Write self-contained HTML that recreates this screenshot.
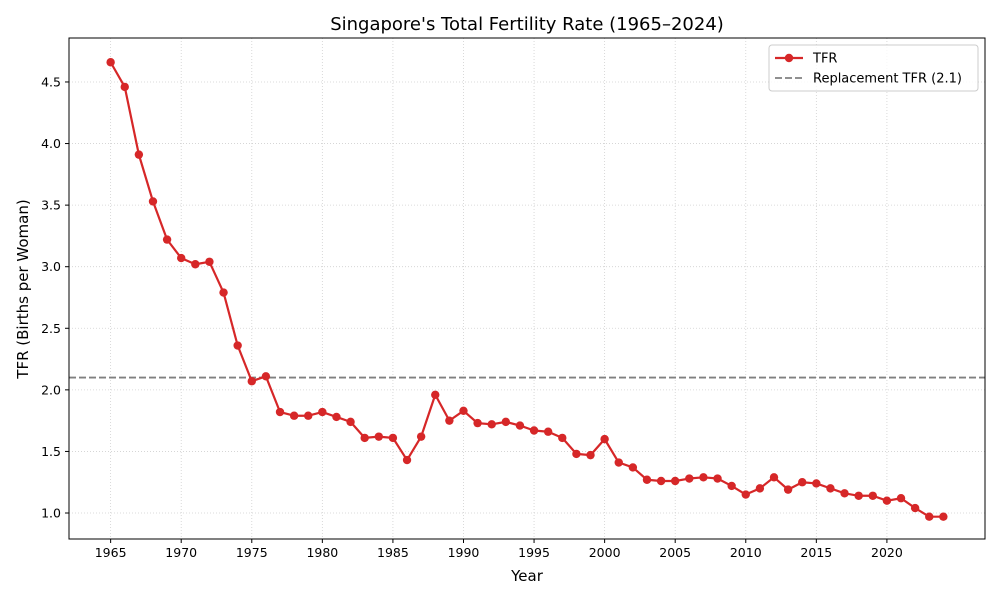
<!DOCTYPE html>
<html><head><meta charset="utf-8"><style>
body{margin:0;background:#fff;font-family:"Liberation Sans","DejaVu Sans",sans-serif;}
svg text{font-family:"DejaVu Sans","Liberation Sans",sans-serif;}
</style></head><body>
<svg id="chart" width="1000" height="600" xmlns="http://www.w3.org/2000/svg"></svg>
<script>
const years = [1965,1966,1967,1968,1969,1970,1971,1972,1973,1974,1975,1976,1977,1978,1979,1980,1981,1982,1983,1984,1985,1986,1987,1988,1989,1990,1991,1992,1993,1994,1995,1996,1997,1998,1999,2000,2001,2002,2003,2004,2005,2006,2007,2008,2009,2010,2011,2012,2013,2014,2015,2016,2017,2018,2019,2020,2021,2022,2023,2024];
const tfr = [4.66,4.46,3.91,3.53,3.22,3.07,3.02,3.04,2.79,2.36,2.07,2.11,1.82,1.79,1.79,1.82,1.78,1.74,1.61,1.62,1.61,1.43,1.62,1.96,1.75,1.83,1.73,1.72,1.74,1.71,1.67,1.66,1.61,1.48,1.47,1.60,1.41,1.37,1.27,1.26,1.26,1.28,1.29,1.28,1.22,1.15,1.20,1.29,1.19,1.25,1.24,1.20,1.16,1.14,1.14,1.10,1.12,1.04,0.97,0.97];
const xTicks = [1965,1970,1975,1980,1985,1990,1995,2000,2005,2010,2015,2020];
const yTicks = [1.0,1.5,2.0,2.5,3.0,3.5,4.0,4.5];
const replacement = 2.1;

const L=69,R=985,T=38,B=539;
const xmin=1962.05,xmax=2026.95,ymin=0.789,ymax=4.857;
const sx=v=>L+(v-xmin)/(xmax-xmin)*(R-L);
const sy=v=>B-(v-ymin)/(ymax-ymin)*(B-T);
const svg=document.getElementById('chart');
const NS='http://www.w3.org/2000/svg';
function mk(tag,attrs,parent){const e=document.createElementNS(NS,tag);for(const k in attrs)e.setAttribute(k,attrs[k]);(parent||svg).appendChild(e);return e;}

xTicks.forEach(t=>{const g=mk('line',{x1:sx(t),x2:sx(t),y1:T,y2:B,stroke:'#d0d0d0','stroke-width':0.8,'stroke-dasharray':'1,2'});

});
yTicks.forEach(t=>{const g=mk('line',{x1:L,x2:R,y1:sy(t),y2:sy(t),stroke:'#d0d0d0','stroke-width':0.8,'stroke-dasharray':'1,2'});

});

const rl=mk('line',{x1:L,x2:R,y1:sy(replacement),y2:sy(replacement),stroke:'#808080','stroke-width':1.8,'stroke-dasharray':'7,3'});



const pts=years.map((y,i)=>sx(y)+','+sy(tfr[i])).join(' ');
const line=mk('polyline',{points:pts,fill:'none',stroke:'#d62728','stroke-width':2.2,'stroke-linejoin':'round'});


years.forEach((y,i)=>{const c=mk('circle',{cx:sx(y),cy:sy(tfr[i]),r:4.2,fill:'#d62728'});

});

const fr=mk('rect',{x:L,y:T,width:R-L,height:B-T,fill:'none',stroke:'#000','stroke-width':1});



xTicks.forEach(t=>{mk('line',{x1:sx(t),x2:sx(t),y1:B,y2:B+4,stroke:'#000'});
const tx=mk('text',{x:sx(t),y:B+18,'text-anchor':'middle','font-size':12.5});tx.textContent=t;

});
yTicks.forEach(t=>{mk('line',{x1:L-4,x2:L,y1:sy(t),y2:sy(t),stroke:'#000'});
const tx=mk('text',{x:L-8,y:sy(t)+4.5,'text-anchor':'end','font-size':12.5});tx.textContent=t.toFixed(1);

});

let e=mk('text',{x:527,y:30,'text-anchor':'middle','font-size':18});e.textContent="Singapore's Total Fertility Rate (1965–2024)";


e=mk('text',{x:527,y:581,'text-anchor':'middle','font-size':15});e.textContent="Year";


e=mk('text',{x:0,y:0,'text-anchor':'middle','font-size':15,transform:'translate(28,289) rotate(-90)'});e.textContent="TFR (Births per Woman)";



const lg=mk('g',{});


mk('rect',{x:769,y:45,width:209,height:46,rx:3,fill:'#fff','fill-opacity':0.8,stroke:'#ccc'},lg);
mk('line',{x1:775,x2:803,y1:58,y2:58,stroke:'#d62728','stroke-width':2.2},lg);
mk('circle',{cx:789,cy:58,r:4.2,fill:'#d62728'},lg);
e=mk('text',{x:813,y:62.5,'font-size':13},lg);e.textContent='TFR';


mk('line',{x1:775,x2:803,y1:78,y2:78,stroke:'#808080','stroke-width':1.8,'stroke-dasharray':'7,3'},lg);
e=mk('text',{x:813,y:82.5,'font-size':13},lg);e.textContent='Replacement TFR (2.1)';


</script>
</body></html>
